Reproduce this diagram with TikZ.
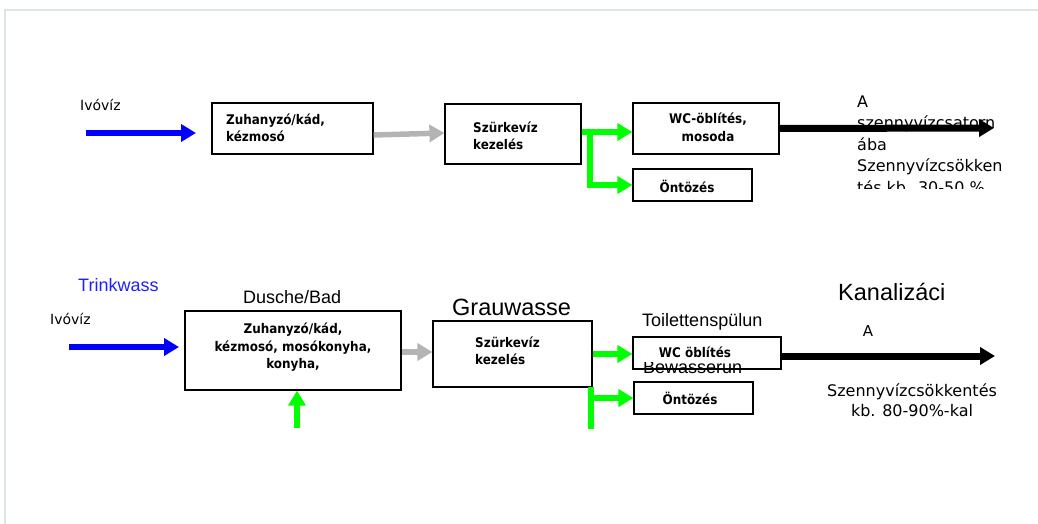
\documentclass[tikz,border=0pt]{standalone}
\usepackage{fontspec}
\usetikzlibrary{arrows.meta}
\newfontfamily\dvs{DejaVu Sans}
\newfontfamily\dvcb{DejaVu Sans Condensed}[BoldFont={DejaVu Sans Condensed Bold}]
\newfontfamily\lsans{Liberation Sans}
\definecolor{framecol}{HTML}{DCE3EB}
\definecolor{flowblue}{HTML}{0000FF}
\definecolor{labelblue}{HTML}{1F1FFF}
\definecolor{flowgreen}{HTML}{00FF00}
\definecolor{flowgrey}{HTML}{B4B4B4}
\begin{document}
\begin{tikzpicture}[x=1pt,y=-1pt,
  box/.style={draw=black,line width=1.2pt,fill=white,inner sep=0pt},
  boxtext/.style={font=\dvcb\bfseries\fontsize{13.3}{17.5}\selectfont,inner sep=0pt},
  pipe/.style={line width=5.5pt,-{Triangle[length=15pt,width=17pt]}},
  bluearrow/.style={pipe,draw=flowblue},
  greyarrow/.style={pipe,draw=flowgrey},
  greenarrow/.style={pipe,draw=flowgreen},
  greenline/.style={line width=5.5pt,draw=flowgreen},
  blackarrow/.style={line width=7pt,draw=black,-{Triangle[length=15pt,width=17pt]}},
  ger/.style={font=\lsans\fontsize{18}{20}\selectfont,inner sep=0pt},
  gerbig/.style={font=\lsans\fontsize{23.5}{26}\selectfont,inner sep=0pt},
  hu/.style={font=\dvs\fontsize{16}{21.5}\selectfont,inner sep=0pt},
]
\useasboundingbox (0,0) rectangle (1038,524);
% page frame
\draw[framecol,line width=2pt] (1038,10) -- (5,10) -- (5,524);

% ---------- upper scheme ----------
\node[box,minimum width=161pt,minimum height=51pt] (bath1) at (292.5,128.5) {};
\node[box,minimum width=136pt,minimum height=60pt] (treat1) at (513,134) {};
\node[box,minimum width=146pt,minimum height=51pt] (wc1) at (706,128.5) {};
\node[box,minimum width=119pt,minimum height=32pt] (irr1) at (692.5,185) {};

\node[boxtext,align=left,anchor=west] (bath1t) at (226,128) {Zuhanyzó/kád,\\kézmosó};
\node[boxtext,align=left,anchor=west] (treat1t) at (473,136) {Szürkevíz\\kezelés};
\node[boxtext,align=center] (wc1t) at (708,127.5) {WC-öblítés,\\mosoda};
\node[boxtext] (irr1t) at (687,186) {Öntözés};

\node[font=\dvs\fontsize{14}{16}\selectfont,inner sep=0pt,anchor=west] (in1) at (80,105) {Ivóvíz};

\coordinate (src1) at (86,133);
\coordinate (tip1) at (196,133);
\draw[bluearrow] (src1) -- (tip1);
\draw[greyarrow] ([yshift=-6.5pt]bath1.east) -- ([yshift=1pt]treat1.west);
\draw[greenarrow] ([yshift=2pt]treat1.east) -- ([yshift=-3.5pt]wc1.west);
\coordinate (split1) at (590,132);
\draw[greenarrow] (split1) |- (irr1.west);
\coordinate (sink1) at (994,128);
\draw[blackarrow] (wc1.east) -- (sink1);

\begin{scope}
  \clip (845,86) rectangle (1038,188.5);
  \node[hu,align=left,anchor=north west] (out1) at (857,95.5)
    {A\\szennyvízcsatorn\\ába\\Szennyvízcsökken\\tés kb. 30-50 \%};
\end{scope}

% ---------- lower scheme ----------
\node[box,minimum width=216pt,minimum height=79pt] (bath2) at (293,350.5) {};
\node[box,minimum width=159pt,minimum height=66pt] (treat2) at (512.5,354) {};
\node[box,minimum width=119pt,minimum height=32pt] (irr2) at (693.5,398) {};
\node[box,minimum width=148pt,minimum height=32pt] (wc2) at (707,353) {};

\begin{scope}
  \clip (630,362) rectangle (790,385);
  \node[ger,anchor=base west] (wc2de) at (643,373) {Bewasserun};
\end{scope}

\node[boxtext,align=center] (bath2t) at (293,347.5)
  {Zuhanyzó/kád,\\kézmosó, mosókonyha,\\konyha,};
\node[boxtext,align=left,anchor=west] (treat2t) at (475,351) {Szürkevíz\\kezelés};
\node[boxtext] (wc2t) at (695,352) {WC öblítés};
\node[boxtext] (irr2t) at (690,398) {Öntözés};

\node[ger,text=labelblue,anchor=west] (drink) at (78,285) {Trinkwass};
\node[font=\dvs\fontsize{14}{16}\selectfont,inner sep=0pt,anchor=west] (in2) at (50,319) {Ivóvíz};
\node[ger,anchor=west] (bath2de) at (243,297) {Dusche/Bad};
\node[gerbig,anchor=west] (treat2de) at (452,307) {Grauwasse};
\node[ger,anchor=west] (wc2deb) at (642,322) {Toilettenspülun};
\node[gerbig,anchor=west] (sewde) at (838,292) {Kanalizáci};
\node[font=\dvs\fontsize{15}{17}\selectfont,inner sep=0pt] (sewa) at (868,331) {A};
\node[hu,align=center,font=\dvs\fontsize{16}{19.5}\selectfont] (out2) at (912,400)
  {Szennyvízcsökkentés\\kb. 80-90\%-kal};

\coordinate (src2) at (69,347);
\coordinate (tip2) at (179,347);
\draw[bluearrow] (src2) -- (tip2);
\draw[greyarrow] ([yshift=-1.5pt]bath2.east) -- ([yshift=2pt]treat2.west);
\coordinate (feed2) at (297,428);
\draw[greenarrow] (feed2) -- ([xshift=4pt]bath2.south);
\draw[greenarrow] (treat2.east) -- (treat2.east -| wc2.west);
\coordinate (drop2a) at (591,387);
\coordinate (drop2b) at (591,429);
\draw[greenline] (drop2a) -- (drop2b);
\coordinate (split2) at (591,398);
\draw[greenarrow] (split2) -- (irr2.west);
\coordinate (sink2) at (995,356);
\draw[blackarrow] ([yshift=-3pt]wc2.east) -- (sink2);
\end{tikzpicture}
\end{document}
